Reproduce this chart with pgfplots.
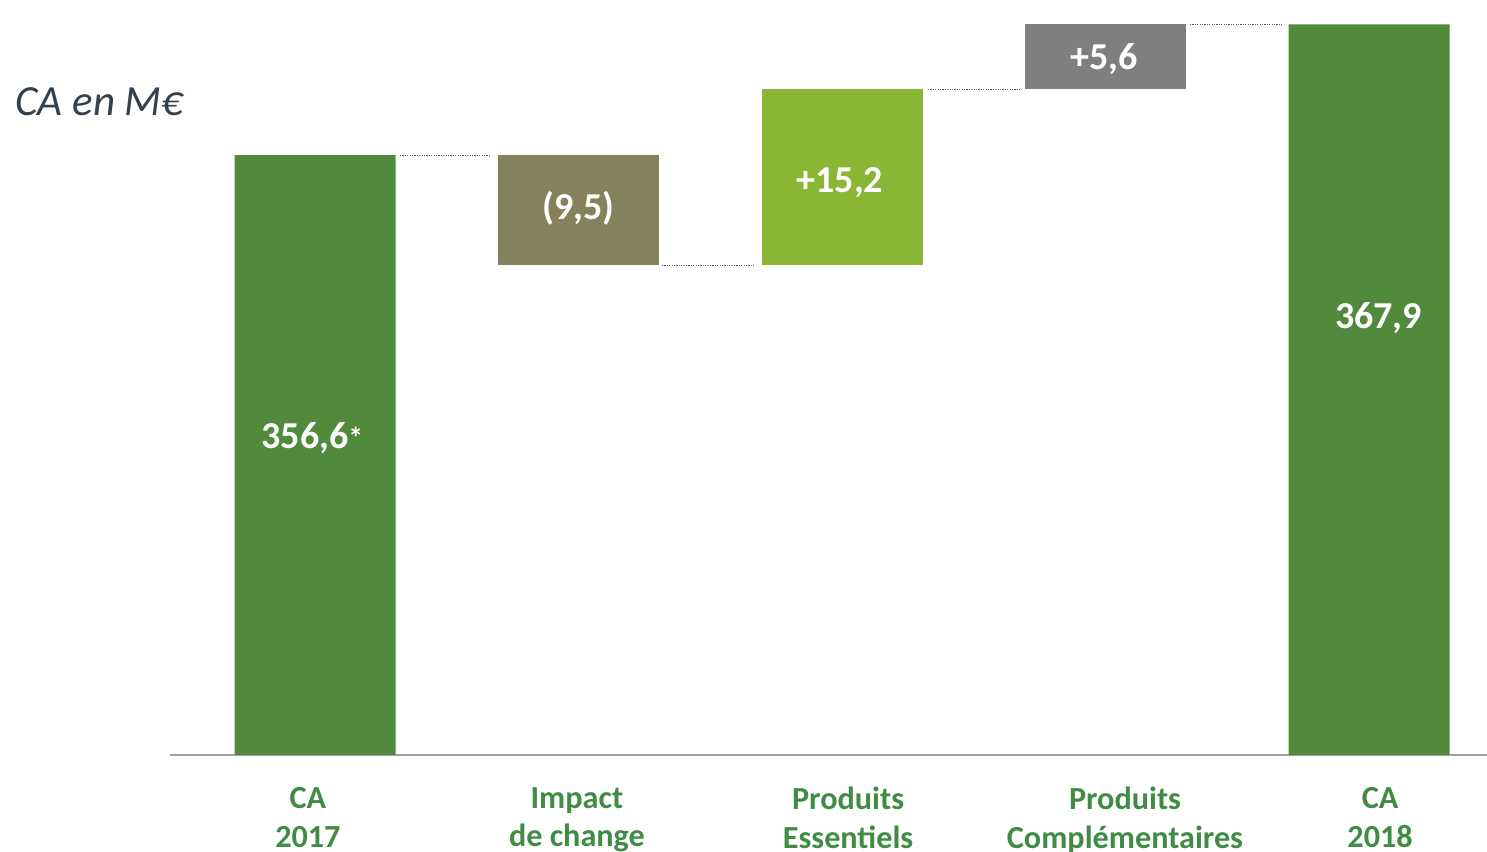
\documentclass[border=0pt]{standalone}
\usepackage{fontspec}
\setmainfont{Carlito}
\usepackage{pgfplots}
\pgfplotsset{compat=1.18}

\definecolor{barGreen}{RGB}{80,138,58}
\definecolor{oliveC}{RGB}{134,129,93}
\definecolor{lightGreen}{RGB}{138,182,54}
\definecolor{grayC}{RGB}{127,127,127}
\definecolor{labelGreen}{RGB}{64,140,68}
\definecolor{titleC}{RGB}{52,64,75}
\definecolor{axisGray}{RGB}{160,160,160}

% common geometry for the bar axis and the overlay axis
\pgfplotsset{wfbase/.style={
    scale only axis, width=658.5pt, height=377.5pt,
    xmin=-0.5503, xmax=4.4478, ymin=304.85, ymax=370.0}}

\begin{document}
\begin{tikzpicture}
\path[use as bounding box] (-85pt,-48pt) rectangle (658.5pt,377.5pt);

\begin{axis}[wfbase,
    ybar stacked, bar width=80.5pt,
    axis x line*=bottom, axis y line=none,
    x axis line style={draw=axisGray, line width=1pt, -},
    xtick={-0.027,0.994,2.023,3.074,4.042},
    xticklabels={{CA\\2017},{Impact\\de change},{Produits\\Essentiels},{Produits\\Complémentaires},{CA\\2018}},
    major tick length=0pt,
    xticklabel style={align=center, inner sep=0pt, yshift=-16pt,
        text=labelGreen, font=\bfseries\fontsize{16.1}{19.3}\selectfont}]
  % invisible base of the floating bars
  \addplot[fill=none, draw=none] coordinates {(0,0) (1,347.1) (2,347.1) (3,362.3) (4,0)};
  \addplot[fill=barGreen, draw=none] coordinates {(0,356.6) (1,0) (2,0) (3,0) (4,367.9)};
  \addplot[fill=oliveC, draw=none] coordinates {(0,0) (1,9.5) (2,0) (3,0) (4,0)};
  \addplot[fill=lightGreen, draw=none] coordinates {(0,0) (1,0) (2,15.2) (3,0) (4,0)};
  \addplot[fill=grayC, draw=none] coordinates {(0,0) (1,0) (2,0) (3,5.6) (4,0)};
\end{axis}

\begin{axis}[wfbase, hide axis, clip=false]
  % connectors
  \addplot[draw=black!65, line width=0.5pt, dash pattern=on 0.6pt off 0.6pt]
    coordinates {(0.3226,356.6) (0.6641,356.6)};
  \addplot[draw=black!65, line width=0.5pt, dash pattern=on 0.6pt off 0.6pt]
    coordinates {(1.3169,347.1) (1.6698,347.1)};
  \addplot[draw=black!65, line width=0.5pt, dash pattern=on 0.6pt off 0.6pt]
    coordinates {(2.3264,362.3) (2.6755,362.3)};
  \addplot[draw=black!65, line width=0.5pt, dash pattern=on 0.6pt off 0.6pt]
    coordinates {(3.3207,367.9) (3.6698,367.9)};
  % value labels
  \addplot[draw=none, mark=none, nodes near coords, point meta=explicit symbolic,
    every node near coord/.append style={anchor=center, inner sep=0pt, text=white,
        font=\bfseries\fontsize{19}{22}\selectfont}]
    coordinates {
      (-0.01,332.2) [356,6{\fontsize{15}{15}\selectfont*}]
      (1.0,352.05) [(9,5)]
      (1.992,354.2) [+15,2]
      (2.994,364.9) [+5,6]
      (4.036,342.56) [367,9]
    };
\end{axis}

\node[anchor=base west, inner sep=0pt, text=titleC,
  font=\itshape\fontsize{21.5}{26}\selectfont] at (-77.5pt,319.5pt) {CA en M€};
\end{tikzpicture}
\end{document}
